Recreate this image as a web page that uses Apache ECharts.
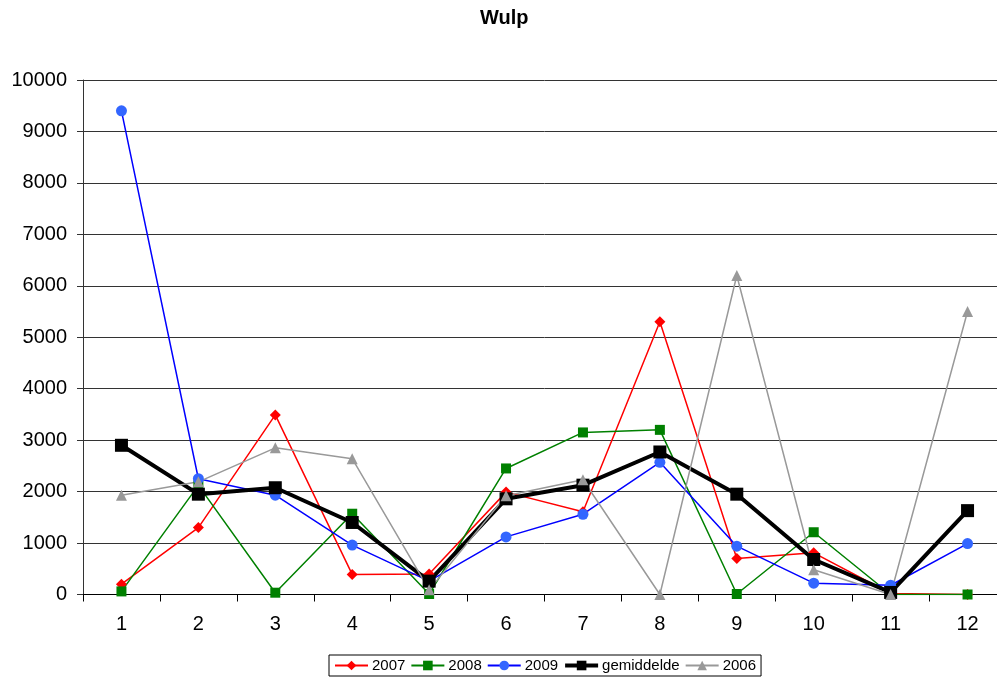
<!DOCTYPE html>
<html>
<head>
<meta charset="utf-8">
<script src="https://cdn.jsdelivr.net/npm/echarts@6/dist/echarts.min.js"></script>
<style>html,body{margin:0;padding:0;background:#fff;overflow:hidden;width:997px;height:679px;}#c{width:1010px;height:679px;}</style>
</head>
<body>
<div id="c"></div>
<script>
const categories = ['1','2','3','4','5','6','7','8','9','10','11','12'];
const s2007 = [200, 1300, 3490, 390, 400, 1990, 1610, 5300, 700, 810, 20, 0];
const s2008 = [60, 2120, 35, 1570, 10, 2450, 3150, 3200, 10, 1210, 0, 0];
const s2009 = [9400, 2250, 1930, 960, 260, 1120, 1560, 2570, 940, 220, 180, 990];
const sGem = [2900, 1950, 2075, 1400, 260, 1860, 2125, 2770, 1950, 680, 40, 1630];
const s2006 = [1930, 2190, 2850, 2640, 90, 1920, 2230, 0, 6200, 480, 0, 5500];
const yTicks = { min: 0, max: 10000, interval: 1000 };

const FONT = "'Liberation Sans', Arial, sans-serif";
const chart = echarts.init(document.getElementById('c'), null, {renderer: 'canvas'});
function ser(name, data, color, symbol, size, width, symColor) {
  return {
    name, type: 'line', data, symbol, symbolSize: size,
    lineStyle: { color, width },
    itemStyle: { color: symColor || color, borderWidth: 0 },
    emphasis: { disabled: true },
    animation: false
  };
}
chart.setOption({
  animation: false,
  backgroundColor: '#fff',
  title: {
    text: 'Wulp', left: 480, top: 8, padding: 0,
    textStyle: { fontFamily: FONT, fontSize: 20, fontWeight: 'bold', color: '#000' }
  },
  legend: {
    left: 329, top: 655, padding: [3, 5, 3, 5],
    borderColor: '#000', borderWidth: 1,
    itemWidth: 33, itemHeight: 12, itemGap: 5,
    textStyle: { fontFamily: FONT, fontSize: 15, color: '#000', padding: [0, 0, 0, -1] },
    data: ['2007', '2008', '2009', { name: 'gemiddelde', lineStyle: { width: 4 } }, '2006']
  },
  grid: { left: 83, top: 80, width: 923, height: 514.5, containLabel: false },
  xAxis: {
    type: 'category', data: categories, boundaryGap: true,
    axisLine: { show: true, lineStyle: { color: '#000', width: 1 } },
    axisTick: { show: true, interval: 0, length: 7, lineStyle: { color: '#000' } },
    axisLabel: { fontFamily: FONT, fontSize: 20, color: '#000', margin: 20, interval: 0 },
    splitLine: { show: false }
  },
  yAxis: {
    type: 'value', min: yTicks.min, max: yTicks.max, interval: yTicks.interval,
    axisLine: { show: true, lineStyle: { color: '#333', width: 1 } },
    axisTick: { show: true, length: 6, lineStyle: { color: '#333' } },
    axisLabel: { fontFamily: FONT, fontSize: 20, color: '#000', margin: 16, formatter: v => String(v) },
    splitLine: { show: true, lineStyle: { color: '#333', width: 1 } }
  },
  series: [
    ser('2007', s2007, '#ff0000', 'diamond', 11, 1.5),
    ser('2008', s2008, '#008000', 'rect', 10, 1.5),
    ser('2009', s2009, '#0000ff', 'circle', 11, 1.5, '#3366ff'),
    ser('gemiddelde', sGem, '#000000', 'rect', 13, 4),
    ser('2006', s2006, '#999999', 'triangle', 11, 1.5)
  ]
});
</script>
</body>
</html>
